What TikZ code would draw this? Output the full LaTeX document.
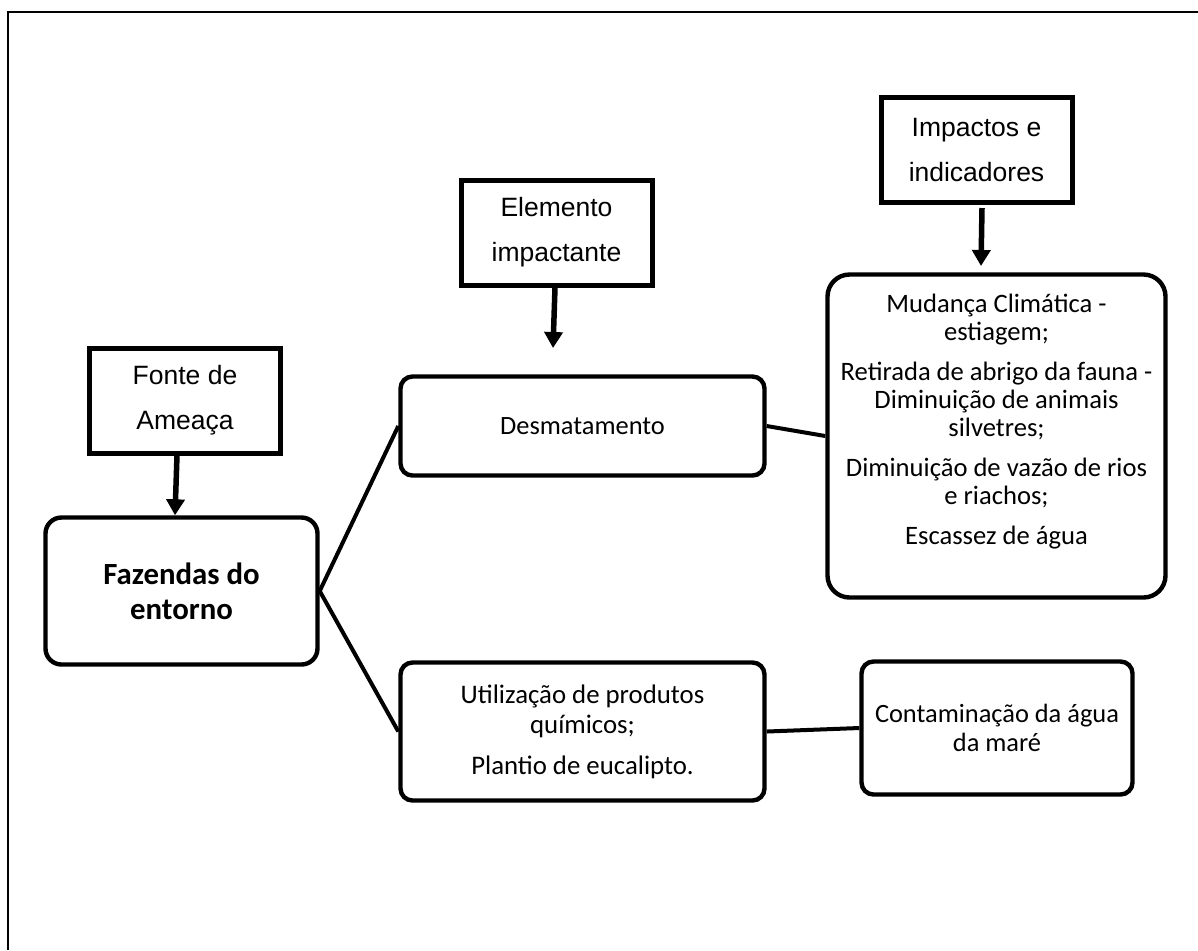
\documentclass[tikz,border=0pt]{standalone}
\usepackage{fontspec}
\setmainfont{Carlito}
\newfontfamily\arialfont{Liberation Sans}
\usetikzlibrary{arrows.meta,calc}

\tikzset{
  hdrbox/.style={draw, line width=2.5pt, align=center, inner sep=0pt,
    minimum width=95.5pt, minimum height=52.5pt,
    font=\arialfont\fontsize{13.25}{22.5}\selectfont},
  rbox/.style={draw, line width=2.2pt, rounded corners=6pt, align=center,
    inner sep=0pt, font=\fontsize{13.2}{14.5}\selectfont},
  pointer/.style={line width=2.75pt, -{Triangle[length=8pt,width=9pt]}},
  link/.style={line width=2pt}
}

\begin{document}
\begin{tikzpicture}[x=0.5pt,y=-0.5pt]
    \useasboundingbox (0,0) rectangle (1198,950);
    % outer frame
    \draw[line width=1.3pt] (8,950) -- (8,12) -- (1198,12);
    % header boxes
    \node[hdrbox] (fonte) at (185,400.5) {Fonte de\\Ameaça};
    \node[hdrbox] (elemento) at (556.5,232.5) {Elemento\\impactante};
    \node[hdrbox] (impactos) at (976.5,150) {Impactos e\\indicadores};
    % content boxes
    \node[rbox, rounded corners=8pt, minimum width=136pt, minimum height=73.5pt,
          font=\bfseries\fontsize{15.4}{17.5}\selectfont] (fazendas) at (181.5,591) {Fazendas do\\entorno};
    \node[rbox, minimum width=182pt, minimum height=49.5pt] (desmat) at (582.5,426) {Desmatamento};
    \node[rbox, minimum width=182pt, minimum height=69pt, font=\fontsize{13.4}{15}\selectfont] (util) at (582.5,731.5)
        {Utilização de produtos\\químicos;\\[5.5pt]Plantio de eucalipto.};
    \node[rbox, minimum width=135.5pt, minimum height=66.5pt] (contam) at (997,728) {Contaminação da água\\da maré};
    \node[rbox, rounded corners=11pt, minimum width=169pt, minimum height=161.5pt] (efeitos) at (996.5,436)
        {\parbox[c][158pt][t]{166pt}{\vspace*{8pt}\centering\fontsize{13.3}{14}\selectfont
         Mudança Climática -\\estiagem;\\[6pt]Retirada de abrigo da fauna -\\Diminuição de animais\\silvetres;\\[6pt]Diminuição de vazão de rios\\e riachos;\\[6pt]Escassez de água}};
    % arrows
    \coordinate (elemtip) at (553,348);
    \coordinate (imptip) at (981,266);
    \draw[pointer] ([xshift=-4pt]fonte.south) -- ([xshift=-5pt]fonte.south |- fazendas.north);
    \draw[pointer] ([xshift=-0.75pt]elemento.south) -- (elemtip);
    \draw[pointer] ([xshift=2.75pt,yshift=-1.5pt]impactos.south) -- (imptip);
    % links
    \draw[link] (fazendas.east) -- (desmat.west);
    \draw[link] (fazendas.east) -- (util.west);
    \draw[link] (desmat.east) -- (efeitos.west);
    \draw[link] (util.east) -- (contam.west);
\end{tikzpicture}
\end{document}
